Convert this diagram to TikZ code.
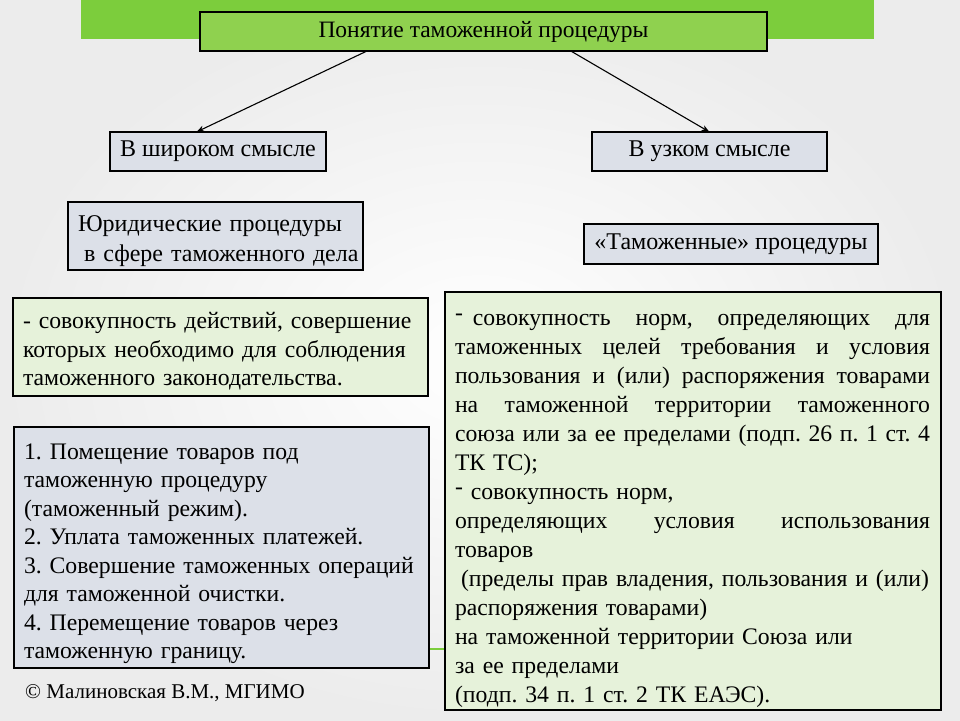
\documentclass[tikz,border=0pt]{standalone}
\usepackage{fontspec}
\setmainfont{Liberation Serif}
\usetikzlibrary{arrows.meta,calc}
\definecolor{band}{HTML}{7CCD3C}
\definecolor{titlefill}{HTML}{8FD14F}
\definecolor{boxgrey}{HTML}{DCE0E8}
\definecolor{boxgreen}{HTML}{E6F2DA}
\definecolor{bgouter}{HTML}{ECECEC}
\newcommand{\updash}{\raisebox{0.22em}{-}}
\newcommand{\jl}[1]{\leavevmode\hbox to 475pt{\spaceskip=\fontdimen2\font plus 1fil\relax #1}}
\newcommand{\oneline}[1]{\leavevmode\mbox{#1}}
\newcommand{\lift}[1]{\rule{0pt}{\dimexpr 0.7em+#1\relax}}
\frenchspacing
\begin{document}
\begin{tikzpicture}[x=1pt,y=-1pt,
  frame/.style={draw=black, line width=2pt, anchor=north west, inner ysep=0pt, outer sep=0pt},
  greybox/.style={frame, fill=boxgrey},
  greenbox/.style={frame, fill=boxgreen},
  txt/.style={font=\fontsize{24}{29}\selectfont},
  conn/.style={line width=1.1pt, -{Stealth[length=8pt,width=6pt]}}]
\useasboundingbox (0,0) rectangle (960,720);
\shade[inner color=white, outer color=bgouter] (0,0) rectangle (960,720);
\fill[band] (81,0) rectangle (874,39);
\draw[band, line width=2.5pt] (428,649) -- (446,649);

\node[frame, fill=titlefill, minimum width=567pt, minimum height=39pt, inner xsep=0pt,
  font=\fontsize{23.5}{28}\selectfont] (title) at (200,12) {Понятие таможенной процедуры};

\node[greybox, minimum width=216pt, minimum height=39pt, inner xsep=0pt, txt] (wide) at (110,132) {В широком смысле};
\node[greybox, minimum width=235pt, minimum height=39pt, inner xsep=0pt, txt] (narrow) at (592,132) {В узком смысле};

\node[greybox, minimum height=68pt, text width=275pt, inner xsep=10pt, align=left,
  font=\fontsize{24}{30}\selectfont] (jur) at (68,202)
  {\oneline{\lift{10pt}Юридические процедуры}\\\oneline{\hspace*{6pt}в сфере таможенного дела}};
\node[greybox, minimum width=294pt, minimum height=40pt, inner xsep=0pt, txt] (cust) at (584,224) {«Таможенные» процедуры};

\node[greenbox, minimum height=98pt, text width=395pt, inner xsep=10pt, align=left,
  font=\fontsize{23.7}{28.5}\selectfont] (def) at (13,298)
  {\oneline{\lift{8pt}- совокупность действий, совершение}\\\oneline{которых необходимо для соблюдения}\\\oneline{таможенного законодательства.}};

\node[greybox, minimum height=241pt, text width=395pt, inner xsep=10pt, align=left,
  font=\fontsize{23.7}{28.5}\selectfont] (list) at (14,427)
  {\oneline{\lift{12pt}\makebox[26pt][l]{1.}Помещение товаров под}\\
   \oneline{таможенную процедуру}\\
   \oneline{(таможенный режим).}\\
   \oneline{2. Уплата таможенных платежей.}\\
   \oneline{3. Совершение таможенных операций}\\
   \oneline{для таможенной очистки.}\\
   \oneline{4. Перемещение товаров через}\\
   \oneline{таможенную границу.}};

\node[greenbox, minimum height=418pt, text width=476pt, inner xsep=10pt, align=left,
  font=\fontsize{23.7}{29}\selectfont] (norms) at (445,292)
  {\jl{\lift{15pt}\updash\hspace{10pt}совокупность норм, определяющих для}\\
   \jl{таможенных целей требования и условия}\\
   \jl{пользования и (или) распоряжения товарами}\\
   \jl{на таможенной территории таможенного}\\
   \jl{союза или за ее пределами (подп. 26 п. 1 ст. 4}\\
   \oneline{ТК ТС);}\\
   \oneline{\updash\ совокупность норм,}\\
   \jl{определяющих условия использования}\\
   \oneline{товаров}\\
   \oneline{\hspace*{6pt}(пределы прав владения, пользования и (или)}\\
   \oneline{распоряжения товарами)}\\
   \oneline{на таможенной территории Союза или}\\
   \oneline{за ее пределами}\\
   \oneline{(подп. 34 п. 1 ст. 2 ТК ЕАЭС).}};

\node[anchor=west, inner sep=0pt, font=\fontsize{21}{25}\selectfont] (copy) at (25,693) {© Малиновская В.М., МГИМО};

\draw[conn] ($(title.south west)!0.2945!(title.south east)$) -- ($(wide.north west)!0.40!(wide.north east)$);
\draw[conn] ($(title.south west)!0.654!(title.south east)$) -- (narrow.north);
\end{tikzpicture}
\end{document}
